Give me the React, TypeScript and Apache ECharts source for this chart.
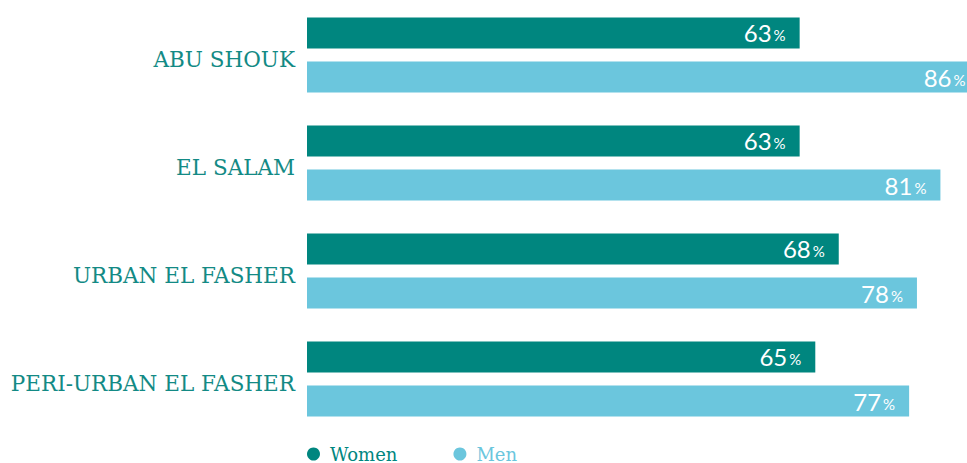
import React, { useEffect, useRef } from "react";
import * as echarts from "echarts";

const categories = ["ABU SHOUK", "EL SALAM", "URBAN EL FASHER", "PERI-URBAN EL FASHER"];
const womenValues = [63, 63, 68, 65];
const menValues = [86, 81, 78, 77];
const seriesNames = ["Women", "Men"];

const WOMEN_COLOR = "#00867f";
const MEN_COLOR = "#6bc6dd";
const LABEL_COLOR = "#138a85";

export default function App() {
  const ref = useRef<HTMLDivElement>(null);
  useEffect(() => {
    if (!ref.current) return;
    const chart = echarts.init(ref.current, undefined, { renderer: "svg" });
    const valueLabel = {
      show: true,
      position: "insideRight",
      distance: 14,
      formatter: (p: any) => `{n|${p.value}}{p|%}`,
      rich: {
        n: { color: "#ffffff", fontSize: 24, fontFamily: "Lato, 'Open Sans', sans-serif", fontWeight: 400 },
        p: { color: "#ffffff", fontSize: 15, fontFamily: "Lato, 'Open Sans', sans-serif", padding: [5, 0, 0, 2] },
      },
    };
    chart.setOption({
      animation: false,
      grid: { left: 307, right: 0, top: 1, height: 432, containLabel: false },
      xAxis: {
        type: "value",
        min: 0,
        max: 84.4,
        show: false,
      },
      yAxis: {
        type: "category",
        data: categories,
        inverse: true,
        axisLine: { show: false },
        axisTick: { show: false },
        axisLabel: {
          margin: 12,
          formatter: (v: string) => `{a|${v}}`,
          rich: {
            a: {
              color: LABEL_COLOR,
              fontFamily: "'DejaVu Serif', serif",
              fontSize: 21.5,
              padding: [9, 0, 0, 0],
            },
          },
        },
      },
      legend: {
        left: 302,
        top: 440,
        icon: "circle",
        itemWidth: 13,
        itemHeight: 13,
        itemGap: 56,
        data: [
          { name: seriesNames[0], textStyle: { color: WOMEN_COLOR } },
          { name: seriesNames[1], textStyle: { color: MEN_COLOR } },
        ],
        textStyle: { fontFamily: "'DejaVu Serif', serif", fontSize: 18, padding: [0, 0, 0, 5] },
      },
      series: [
        {
          name: seriesNames[0],
          type: "bar",
          data: womenValues,
          barWidth: 31,
          barGap: "42%",
          clip: false,
          itemStyle: { color: WOMEN_COLOR },
          label: valueLabel,
        },
        {
          name: seriesNames[1],
          type: "bar",
          data: menValues,
          barWidth: 31,
          barGap: "42%",
          clip: false,
          itemStyle: { color: MEN_COLOR },
          label: valueLabel,
        },
      ],
    });
    return () => chart.dispose();
  }, []);
  return (
    <div
      ref={ref}
      style={{ position: "fixed", left: 0, top: 0, width: 967, height: 463, background: "#fff" }}
    />
  );
}
